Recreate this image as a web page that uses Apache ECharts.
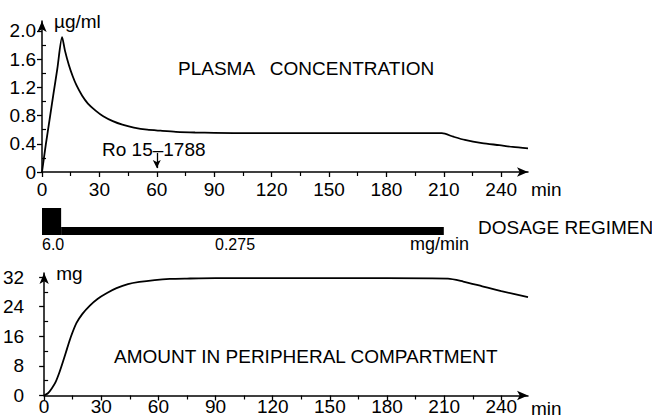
<!DOCTYPE html>
<html><head><meta charset="utf-8">
<script src="https://cdn.jsdelivr.net/npm/echarts@6/dist/echarts.min.js"></script>
<style>html,body{margin:0;padding:0;background:#fff}#c{width:652px;height:420px}</style>
</head><body><div id="c"></div>
<script>
// ---- data ----
const plasmaTime = [0, 2, 4, 6, 8, 10.5, 12, 14, 16, 18, 21, 24, 28, 32, 37, 42, 48, 55, 62, 70, 80, 90, 110, 130, 150, 170, 190, 209, 215, 221, 230, 239, 246, 254];
const plasmaConc = [0, 0.39, 0.75, 1.11, 1.46, 1.91, 1.72, 1.52, 1.36, 1.23, 1.08, 0.97, 0.87, 0.79, 0.72, 0.67, 0.63, 0.60, 0.585, 0.57, 0.56, 0.555, 0.55, 0.55, 0.55, 0.55, 0.55, 0.55, 0.50, 0.455, 0.41, 0.38, 0.355, 0.335];
const amountTime = [0, 2, 4, 6, 8, 10, 12, 14, 17, 20, 24, 28, 33, 38, 44, 50, 58, 66, 75, 90, 120, 150, 180, 212, 220, 230, 240, 254];
const amountMg = [0, 0.6, 1.9, 3.6, 6.2, 9.3, 12.6, 15.8, 19.6, 22.0, 24.3, 26.1, 27.7, 29.0, 30.1, 30.7, 31.2, 31.5, 31.6, 31.7, 31.7, 31.7, 31.7, 31.6, 30.8, 29.5, 28.2, 26.6];
const timeTicks = [0, 30, 60, 90, 120, 150, 180, 210, 240];
const timeMinorTicks = [15, 45, 75, 105, 135, 165, 195, 225];
const plasmaTicks = [0, 0.4, 0.8, 1.2, 1.6, 2.0];
const plasmaMinorTicks = [0.2, 0.6, 1.0, 1.4, 1.8];
const amountTicks = [0, 8, 16, 24, 32];
const amountMinorTicks = [4, 12, 20, 28];
const regimenStart = [0, 10];
const regimenEnd = [10, 210];
const regimenRate = [6.0, 0.275];
const injectionTime = 60;            // Ro 15-1788 given at 60 min
const injectionArrow = [0.27, 0.055]; // arrow from/to (µg/ml)

// ---- chart ----
const FONT = '"Liberation Sans", Arial, Helvetica, sans-serif';
const TMAX = 254;
const chart = echarts.init(document.getElementById('c'), null, {renderer: 'svg'});

function mainX(g, labelMargin) {
  return {
    gridIndex: g, type: 'value', min: 0, max: TMAX,
    axisLine: {show: true, lineStyle: {color: '#000', width: 1.5}, symbol: ['none', 'arrow'], symbolSize: [7, 11]},
    axisTick: {show: true, customValues: timeTicks, length: 5, lineStyle: {color: '#000', width: 1.3}},
    axisLabel: {customValues: timeTicks, color: '#000', fontSize: 19, fontFamily: FONT, margin: labelMargin},
    splitLine: {show: false}
  };
}
function minorX(g) {
  return {
    gridIndex: g, type: 'value', min: 0, max: TMAX,
    axisLine: {show: false},
    axisTick: {show: true, inside: true, customValues: timeMinorTicks, length: 4, lineStyle: {color: '#000', width: 1.2}},
    axisLabel: {show: false}, splitLine: {show: false}
  };
}
function mainY(g, max, ticks, fmt, name, labelMargin) {
  return {
    gridIndex: g, type: 'value', min: 0, max: max,
    axisLine: {show: true, lineStyle: {color: '#000', width: 1.5}, symbol: ['none', 'arrow'], symbolSize: [7, 11]},
    axisTick: {show: true, customValues: ticks, length: 5, lineStyle: {color: '#000', width: 1.3}},
    axisLabel: {customValues: ticks, color: '#000', fontSize: 19, fontFamily: FONT, margin: labelMargin, formatter: fmt},
    splitLine: {show: false},
    name: name, nameLocation: 'end', nameGap: 0,
    nameTextStyle: {color: '#000', fontSize: 19, fontFamily: FONT, align: 'left', verticalAlign: 'middle', padding: [0, 0, 0, 12]}
  };
}
function minorY(g, max, ticks) {
  return {
    gridIndex: g, type: 'value', min: 0, max: max,
    axisLine: {show: false},
    axisTick: {show: true, customValues: ticks, length: 4, lineStyle: {color: '#000', width: 1.2}},
    axisLabel: {show: false}, splitLine: {show: false}
  };
}

const txt = (text, x, y, size) => ({
  type: 'text', x: x, y: y, silent: true,
  style: {text: text, fill: '#000', fontSize: size, fontFamily: FONT, align: 'left', verticalAlign: 'middle'}
});

const option = {
  backgroundColor: '#fff',
  animation: false,
  grid: [
    {left: 42, right: 124, top: 21, height: 151},
    {left: 42, right: 124, top: 208, height: 27},
    {left: 42, right: 124, top: 273, height: 122.5}
  ],
  xAxis: [
    mainX(0, 8), minorX(0),
    {gridIndex: 1, type: 'value', min: 0, max: TMAX, show: false},
    mainX(2, 1), minorX(2)
  ],
  yAxis: [
    mainY(0, 2.14, plasmaTicks, v => v === 0 ? '0' : v.toFixed(1), 'µg/ml', 6), minorY(0, 2.14, plasmaMinorTicks),
    {gridIndex: 1, type: 'log', logBase: 10, min: 0.075, max: 6.0, show: false},
    mainY(2, 33.1, amountTicks, v => String(v), 'mg', 20), minorY(2, 33.1, amountMinorTicks)
  ],
  series: [
    {
      type: 'line', xAxisIndex: 0, yAxisIndex: 0, showSymbol: false, smooth: 0.25,
      data: plasmaTime.map((t, i) => [t, plasmaConc[i]]),
      lineStyle: {color: '#000', width: 1.8},
      markLine: {
        silent: true, symbol: ['none', 'arrow'], symbolSize: [6, 8],
        label: {show: false}, lineStyle: {color: '#000', width: 1.3, type: 'solid'},
        data: [[{coord: [injectionTime, injectionArrow[0]]}, {coord: [injectionTime, injectionArrow[1]]}]]
      }
    },
    {
      type: 'custom', xAxisIndex: 2, yAxisIndex: 2,
      data: regimenStart.map((s, i) => [s, regimenEnd[i], regimenRate[i]]),
      encode: {x: [0, 1], y: 2},
      renderItem: (params, api) => {
        const p0 = api.coord([api.value(0), api.value(2)]);
        const p1 = api.coord([api.value(1), 0.075]);
        return {type: 'rect', shape: {x: p0[0], y: p0[1], width: p1[0] - p0[0], height: p1[1] - p0[1]}, style: {fill: '#000'}};
      }
    },
    {
      type: 'line', xAxisIndex: 3, yAxisIndex: 3, showSymbol: false, smooth: 0.25,
      data: amountTime.map((t, i) => [t, amountMg[i]]),
      lineStyle: {color: '#000', width: 1.8}
    }
  ],
  graphic: [
    txt('min', 531, 189, 19),
    txt('min', 531, 408, 19),
    txt('PLASMA   CONCENTRATION', 178, 68, 19),
    txt('Ro 15\u20131788', 102, 149, 19),
    txt('DOSAGE REGIMEN', 478, 227, 19),
    txt(String(regimenRate[0].toFixed(1)), 42, 244, 16),
    txt(String(regimenRate[1]), 215, 244, 16),
    txt('mg/min', 410, 244, 18),
    txt('AMOUNT IN PERIPHERAL COMPARTMENT', 114, 356, 19)
  ]
};
chart.setOption(option);
</script>
</body></html>
